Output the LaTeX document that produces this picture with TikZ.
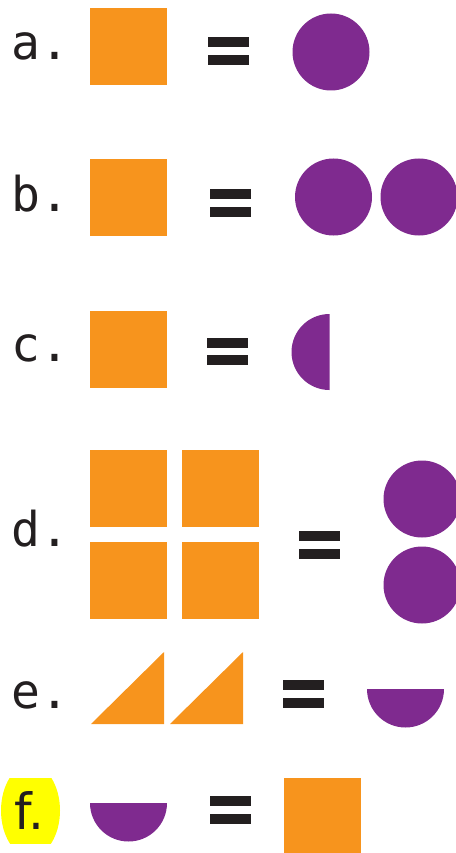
\documentclass[tikz,border=0pt]{standalone}
\usepackage{fontspec}
\newfontfamily\labfont{DejaVu Sans Mono}
\newfontfamily\ffont{DejaVu Sans}
\definecolor{sqorange}{HTML}{F7941D}
\definecolor{cpurple}{HTML}{7F2A8F}
\definecolor{eqblack}{HTML}{231F20}
\definecolor{hlyellow}{HTML}{FFFF00}
\tikzset{
  lab/.style={anchor=base west, inner sep=0pt, font=\labfont\fontsize{48}{48}\selectfont, text=eqblack},
  sq/.style={fill=sqorange},
  circ/.style={fill=cpurple},
  eqbar/.style={fill=eqblack}
}
\newcommand{\eqsign}[3]{% x, top of upper bar, top of lower bar
  \fill[eqbar] (#1,#2) rectangle ++(41,10);
  \fill[eqbar] (#1,#3) rectangle ++(41,10);}
\newcommand{\sqbox}[2]{\fill[sq] (#1,#2) rectangle ++(77,77);}
\begin{document}
\begin{tikzpicture}[x=1pt,y=-1pt]
\useasboundingbox (0,0) rectangle (455,853);
% a
\node[lab] (la) at (11,60) {a.};
\sqbox{90}{8}
\eqsign{208}{37}{55}
\fill[circ] (331,52) circle (38.5);
% b
\node[lab] (lb) at (11,211) {b.};
\sqbox{90}{159}
\eqsign{210}{189}{207}
\fill[circ] (333.5,197) circle (38.5);
\fill[circ] (419,197) circle (38.5);
% c
\node[lab] (lc) at (11,361) {c.};
\sqbox{90}{311}
\eqsign{207}{338}{355}
\begin{scope}
  \clip (280,300) rectangle (329.5,400);
  \fill[circ] (329.5,352) circle (38);
\end{scope}
% d
\node[lab] (ld) at (11,546) {d.};
\sqbox{90}{450}
\sqbox{182}{450}
\sqbox{90}{542}
\sqbox{182}{542}
\eqsign{299}{531}{549}
\fill[circ] (422,499) circle (38.5);
\fill[circ] (422,585) circle (38.5);
% e
\node[lab] (le) at (11,708) {e.};
\fill[sq] (91,724) -- (164,724) -- (164,652) -- cycle;
\fill[sq] (170,724) -- (243,724) -- (243,652) -- cycle;
\eqsign{283}{680}{698}
\begin{scope}
  \clip (360,689) rectangle (450,740);
  \fill[circ] (405.5,689) circle (38.5);
\end{scope}
% f
\begin{scope}
  \clip (0,778) rectangle (62,843);
  \fill[hlyellow] (30.5,810.5) ellipse (29.5 and 46);
\end{scope}
\node[anchor=base west, inner sep=0pt, font=\ffont\fontsize{50}{50}\selectfont, text=eqblack] (lf) at (14,829) {f.};
\begin{scope}
  \clip (85,803) rectangle (175,850);
  \fill[circ] (128.5,803) circle (38.5);
\end{scope}
\eqsign{210}{796}{814}
\sqbox{284}{778}
\end{tikzpicture}
\end{document}
